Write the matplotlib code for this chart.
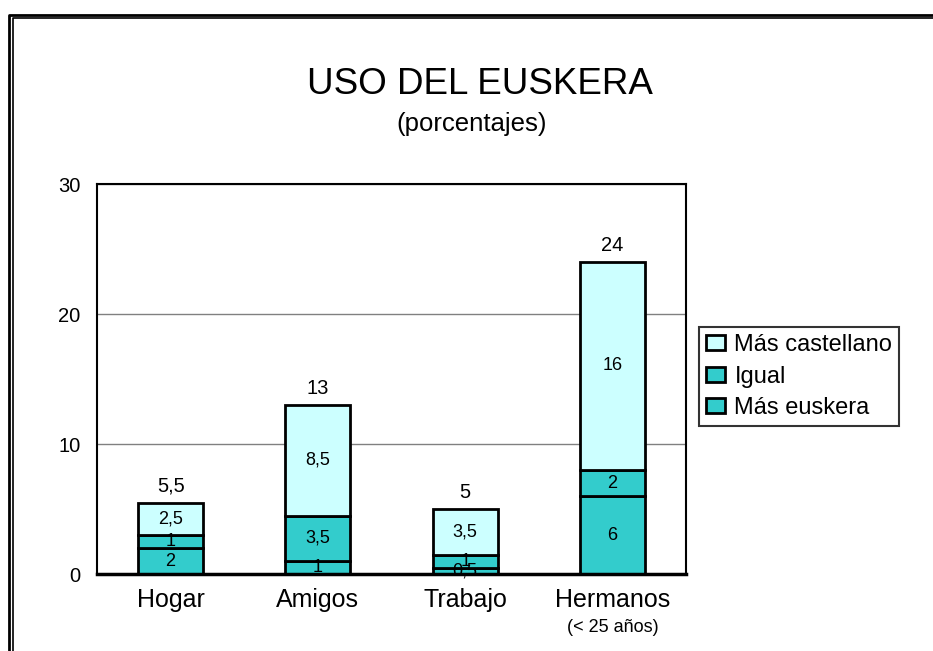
import matplotlib
matplotlib.use("Agg")
import matplotlib.pyplot as plt
from matplotlib.lines import Line2D
from matplotlib.patches import Patch

plt.rcParams['font.family'] = ['Liberation Sans', 'DejaVu Sans']

# --- data ---
categories = ["Hogar", "Amigos", "Trabajo", "Hermanos"]
mas_euskera = [2, 1, 0.5, 6]
igual = [1, 3.5, 1, 2]
mas_castellano = [2.5, 8.5, 3.5, 16]
totals = [5.5, 13, 5, 24]
y_ticks = [0, 10, 20, 30]

C_CAST = "#CCFFFF"
C_IGUAL = "#33CCCC"
C_EUSK = "#33CCCC"


def fmt(v):
    # decimal comma like the original
    if float(v).is_integer():
        return str(int(v))
    return f"{v:g}".replace(".", ",")


fig = plt.figure(figsize=(9.33, 6.51), dpi=100)
ax = fig.add_axes([97 / 933, 1 - 574 / 651, 589 / 933, 390 / 651])

x = [i + 0.5 for i in range(len(categories))]
width = 0.44

series = [
    ("Más euskera", mas_euskera, C_EUSK),
    ("Igual", igual, C_IGUAL),
    ("Más castellano", mas_castellano, C_CAST),
]

bottom = [0] * len(categories)
for name, vals, col in series:
    bars = ax.bar(x, vals, width, bottom=bottom, color=col,
                  edgecolor="black", linewidth=2, zorder=2)
    for xi, b, v in zip(x, bottom, vals):
        ax.text(xi, b + v / 2, fmt(v), ha="center", va="center",
                fontsize=13, zorder=3)
    bottom = [b + v for b, v in zip(bottom, vals)]

# totals above bars
for xi, t in zip(x, totals):
    ax.annotate(fmt(t), (xi, t), xytext=(0, 5), textcoords="offset points",
                ha="center", va="bottom", fontsize=14.5)

ax.set_xlim(0, 4)
ax.set_ylim(0, 30)
ax.set_yticks(y_ticks)
ax.set_yticklabels([str(t) for t in y_ticks], fontsize=14.5)
ax.set_xticks(x)
ax.set_xticklabels(categories, fontsize=18)
ax.tick_params(axis="y", length=0, pad=12)
ax.tick_params(axis="x", length=0, pad=10)
ax.yaxis.grid(True, color="#808080", linewidth=1)
ax.set_axisbelow(True)
for sp in ax.spines.values():
    sp.set_color("black")
    sp.set_linewidth(1.5)
ax.spines["bottom"].set_linewidth(2.5)

# small note under the last category
fig.text(x[3] / 4 * 589 / 933 + 97 / 933, 1 - 628 / 651, "(< 25 años)",
         ha="center", va="center", fontsize=13)

# titles
fig.text(480 / 933, 1 - 85 / 651, "USO DEL EUSKERA", ha="center",
         va="center", fontsize=26.5)
fig.text(472 / 933, 1 - 124 / 651, "(porcentajes)", ha="center",
         va="center", fontsize=18.5)

# legend (top entry first)
handles = [Patch(facecolor=C_CAST, edgecolor="black", linewidth=2),
           Patch(facecolor=C_IGUAL, edgecolor="black", linewidth=2),
           Patch(facecolor=C_EUSK, edgecolor="black", linewidth=2)]
leg = fig.legend(handles, ["Más castellano", "Igual", "Más euskera"],
                 loc="upper left", bbox_to_anchor=(699 / 933, 1 - 327 / 651),
                 fontsize=17, frameon=True, fancybox=False,
                 edgecolor="black", handlelength=0.8, handleheight=0.6,
                 handletextpad=0.4, labelspacing=0.4, borderpad=0.3,
                 borderaxespad=0)
leg.get_frame().set_linewidth(1.5)

# double frame around the chart area (cut off at right and bottom)
W, H = 933, 651
fig.add_artist(Line2D([8.5 / W, 8.5 / W, 1], [0, 1 - 14.5 / H, 1 - 14.5 / H],
                      color="black", linewidth=2, transform=fig.transFigure))
fig.add_artist(Line2D([12.5 / W, 12.5 / W, 1], [0, 1 - 18 / H, 1 - 18 / H],
                      color="black", linewidth=1.2, transform=fig.transFigure))

fig.savefig("out.png", dpi=100)
